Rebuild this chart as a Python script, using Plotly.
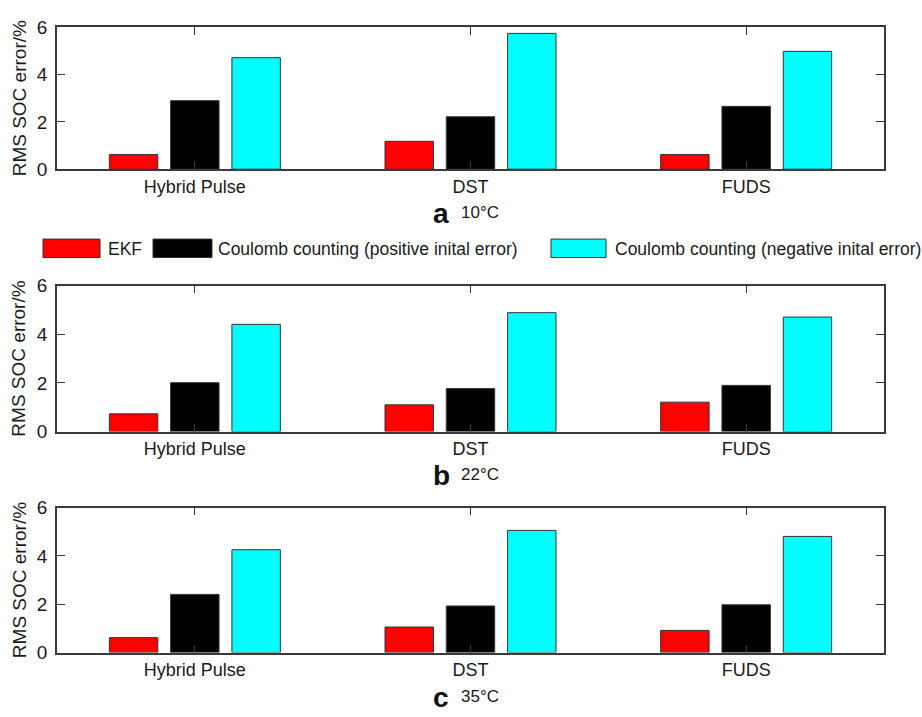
import plotly.graph_objects as go

categories = ["Hybrid Pulse", "DST", "FUDS"]
series_names = ["EKF", "Coulomb counting (positive inital error)", "Coulomb counting (negative inital error)"]
series_colors = ["#FF0000", "#000000", "#00FFFF"]

panel_letters = ["a", "b", "c"]
panel_temps = ["10°C", "22°C", "35°C"]

ekf_10 = [0.62, 1.18, 0.62]
pos_10 = [2.90, 2.22, 2.66]
neg_10 = [4.72, 5.75, 4.99]

ekf_22 = [0.73, 1.10, 1.21]
pos_22 = [2.01, 1.77, 1.90]
neg_22 = [4.41, 4.89, 4.71]

ekf_35 = [0.62, 1.06, 0.92]
pos_35 = [2.41, 1.93, 1.98]
neg_35 = [4.26, 5.06, 4.81]

y_ticks = [0, 2, 4, 6]
y_title = "RMS SOC error/%"

panels = [[ekf_10, pos_10, neg_10], [ekf_22, pos_22, neg_22], [ekf_35, pos_35, neg_35]]

W, H = 922, 717
# pixel boxes of plot areas (top, bottom)
boxes = [(18, 164), (284, 434.3), (512.7, 662)]
x_left, x_right = 57, 884

FONT = "Liberation Sans, Arial, sans-serif"

fig = go.Figure()
layout = dict(
    width=W, height=H, margin=dict(l=0, r=0, t=0, b=0),
    paper_bgcolor="white", plot_bgcolor="white",
    barmode="group", bargap=0.333, bargroupgap=0.21,
    showlegend=False,
    font=dict(family=FONT, color="#1a1a1a"),
)
annotations = []
shapes = []
axcol = "#3a3a3a"
for p, (vals, (top, bot)) in enumerate(zip(panels, boxes)):
    sfx = "" if p == 0 else str(p + 1)
    for s, v in enumerate(vals):
        fig.add_trace(go.Bar(
            x=categories, y=v, name=series_names[s],
            marker=dict(color=series_colors[s], line=dict(color="#333333", width=1)),
            xaxis="x" + sfx, yaxis="y" + sfx, hoverinfo="x+y",
        ))
    layout["xaxis" + sfx] = dict(
        domain=[x_left / W, x_right / W], anchor="y" + sfx,
        type="category", range=[-0.5, 2.5],
        showline=True, linecolor=axcol, linewidth=1.5, mirror="ticks",
        ticks="inside", ticklen=8, tickcolor=axcol, tickwidth=1.2,
        tickfont=dict(size=18, color="#1a1a1a"), ticklabelstandoff=0,
        showgrid=False, zeroline=False, fixedrange=True,
    )
    layout["yaxis" + sfx] = dict(
        domain=[1 - bot / H, 1 - top / H], anchor="x" + sfx,
        range=[0, 6], tickvals=y_ticks,
        showline=True, linecolor=axcol, linewidth=1.5, mirror="ticks",
        ticks="inside", ticklen=8, tickcolor=axcol, tickwidth=1.2,
        tickfont=dict(size=19, color="#1a1a1a"), ticklabelstandoff=4,
        showgrid=False, zeroline=False, fixedrange=True,
    )
    annotations.append(dict(
        text=y_title, textangle=-90, x=19 / W, y=1 - (top + bot) / 2 / H,
        xref="paper", yref="paper", showarrow=False,
        font=dict(size=19, color="#1a1a1a"), xanchor="center", yanchor="middle",
    ))
    lab_y = [210, 480, 708][p]
    annotations.append(dict(
        text="<b>" + panel_letters[p] + "</b>", x=441 / W, y=1 - lab_y / H,
        xref="paper", yref="paper", showarrow=False,
        font=dict(size=28, color="#111111", family=FONT),
        xanchor="center", yanchor="middle",
    ))
    annotations.append(dict(
        text=panel_temps[p], x=459 / W, y=1 - (lab_y - 1) / H,
        xref="paper", yref="paper", showarrow=False,
        font=dict(size=17, color="#1a1a1a", family=FONT),
        xanchor="left", yanchor="middle",
    ))

# custom legend (boxes + labels)
leg_boxes = [(43, 100), (153, 212), (551, 606)]
leg_text_x = [106, 216, 613]
ly0, ly1 = 236, 255
for s in range(3):
    x0, x1 = leg_boxes[s]
    shapes.append(dict(type="rect", xref="paper", yref="paper",
                       x0=x0 / W, x1=x1 / W, y0=1 - ly1 / H, y1=1 - ly0 / H,
                       fillcolor=series_colors[s], line=dict(color="#333333", width=1)))
    annotations.append(dict(
        text=series_names[s], x=leg_text_x[s] / W, y=1 - 246 / H,
        xref="paper", yref="paper", showarrow=False,
        font=dict(size=17.5, color="#1a1a1a", family=FONT),
        xanchor="left", yanchor="middle",
    ))

layout["annotations"] = annotations
layout["shapes"] = shapes
fig.update_layout(**layout)
fig.write_html("out.html")
